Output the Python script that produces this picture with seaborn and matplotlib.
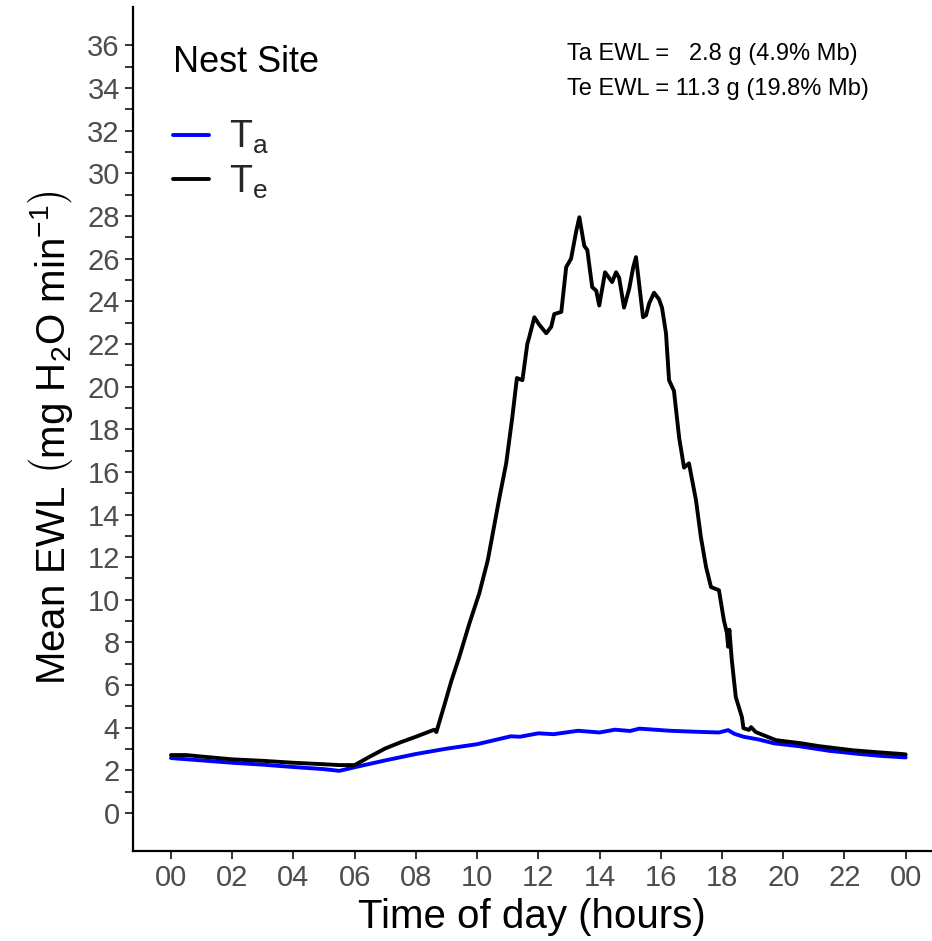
import numpy as np
import pandas as pd
import matplotlib
matplotlib.use("Agg")
import matplotlib.pyplot as plt
import seaborn as sns

# ---- data ----
ta_hours = [0.0, 1.0, 2.0, 3.0, 4.0, 5.0, 5.5, 6.0, 7.0, 8.0, 9.0, 10.0, 11.1, 11.4, 12.0,
            12.5, 13.0, 13.3, 14.0, 14.5, 15.0, 15.3, 15.8, 16.3, 17.2, 17.9, 18.2, 18.4,
            18.7, 19.2, 19.7, 20.5, 21.5, 22.5, 23.2, 24.0]
ta_ewl = [2.58, 2.47, 2.36, 2.27, 2.16, 2.06, 1.98, 2.15, 2.47, 2.77, 3.02, 3.23, 3.60, 3.58, 3.74,
          3.70, 3.80, 3.86, 3.78, 3.91, 3.85, 3.96, 3.91, 3.86, 3.81, 3.78, 3.89, 3.72,
          3.58, 3.45, 3.27, 3.14, 2.92, 2.77, 2.68, 2.61]

te_hours = [0.0, 0.5, 1.0, 2.0, 3.0, 4.0, 5.0, 5.5, 6.0, 6.5, 7.0, 7.5, 8.0, 8.6, 8.67,
            8.93, 9.16, 9.42, 9.75, 10.07, 10.35, 10.73, 10.95, 11.15, 11.3, 11.48, 11.64,
            11.7, 11.87, 12.03, 12.26, 12.42, 12.52, 12.75, 12.91, 13.07, 13.24, 13.34,
            13.5, 13.6, 13.76, 13.89, 13.99, 14.18, 14.41, 14.54, 14.64, 14.8, 14.97,
            15.1, 15.19, 15.29, 15.42, 15.52, 15.62, 15.78, 15.94, 16.04, 16.17, 16.27,
            16.43, 16.6, 16.76, 16.92, 17.15, 17.31, 17.48, 17.64, 17.9, 18.06, 18.16,
            18.2, 18.24, 18.32, 18.45, 18.65, 18.7, 18.88, 18.95, 19.1, 19.76, 20.6,
            21.16, 22.24, 23.0, 23.87, 24.0]
te_ewl = [2.72, 2.72, 2.65, 2.52, 2.45, 2.36, 2.29, 2.25, 2.25, 2.65, 3.03, 3.32, 3.58, 3.91, 3.80,
          5.06, 6.20, 7.33, 8.90, 10.30, 11.86, 14.80, 16.40, 18.56, 20.40, 20.30, 22.0,
          22.3, 23.25, 22.90, 22.50, 22.80, 23.40, 23.50, 25.60, 26.00, 27.30, 27.94,
          26.60, 26.40, 24.66, 24.50, 23.80, 25.36, 24.90, 25.36, 25.10, 23.70, 24.60,
          25.60, 26.07, 24.85, 23.25, 23.35, 23.90, 24.40, 24.10, 23.70, 22.50, 20.30,
          19.80, 17.60, 16.20, 16.40, 14.67, 12.94, 11.53, 10.60, 10.45, 9.05, 8.44,
          7.80, 8.60, 7.17, 5.44, 4.50, 3.98, 3.90, 4.03, 3.80, 3.42, 3.27,
          3.14, 2.95, 2.86, 2.77, 2.75]

series_names = ["Ta", "Te"]
legend_labels = [r"T$_\mathrm{a}$", r"T$_\mathrm{e}$"]
x_tick_values = list(range(0, 25, 2))
x_tick_labels = ["00", "02", "04", "06", "08", "10", "12", "14", "16", "18", "20", "22", "00"]
annot_lines = ["Ta EWL =   2.8 g (4.9% Mb)", "Te EWL = 11.3 g (19.8% Mb)"]

df = pd.concat([
    pd.DataFrame({"hour": ta_hours, "ewl": ta_ewl, "site": "Ta"}),
    pd.DataFrame({"hour": te_hours, "ewl": te_ewl, "site": "Te"}),
], ignore_index=True)

sns.set_theme(style="ticks")
plt.rcParams["font.family"] = ["Liberation Sans", "DejaVu Sans"]
plt.rcParams["mathtext.fontset"] = "custom"
plt.rcParams["mathtext.rm"] = "Liberation Sans"
plt.rcParams["mathtext.it"] = "Liberation Sans:italic"
plt.rcParams["mathtext.bf"] = "Liberation Sans:bold"

fig = plt.figure(figsize=(9.32, 9.41), dpi=100)
ax = fig.add_axes([0.1427, 0.0956, 0.857, 0.897])

sns.lineplot(data=df, x="hour", y="ewl", hue="site", hue_order=series_names,
             palette={"Ta": "#0000FF", "Te": "#000000"}, estimator=None,
             linewidth=2.8, ax=ax, legend=True)

ax.set_xlim(-1.24, 24.85)
ax.set_ylim(-1.78, 37.8)
ax.set_xticks(x_tick_values)
ax.set_xticklabels(x_tick_labels)
ax.set_yticks(list(range(0, 37, 1)))
ax.set_yticklabels([str(v) if v % 2 == 0 else "" for v in range(0, 37, 1)])

for s in ["top", "right"]:
    ax.spines[s].set_visible(False)
for s in ["left", "bottom"]:
    ax.spines[s].set_linewidth(1.6)
    ax.spines[s].set_color("black")
ax.tick_params(axis="both", length=5.5, width=1.4, color="#333333",
               labelsize=21, labelcolor="#4D4D4D", pad=4)

ax.set_xlabel("Time of day (hours)", fontsize=29, color="black", labelpad=4)
ax.set_ylabel(r"Mean EWL $\left(\mathrm{mg\ H_2O\ min^{-1}}\right)$", fontsize=29,
              color="black")
ax.yaxis.set_label_coords(-0.072, 0.489)

handles, _ = ax.get_legend_handles_labels()
leg = ax.legend(handles, legend_labels, title="Nest Site", loc="upper left",
                bbox_to_anchor=(0.008, 0.995), frameon=False, fontsize=27,
                title_fontsize=26, handlelength=0.95, handletextpad=0.55,
                labelspacing=0.2, alignment="left")
leg.get_title().set_color("black")
leg._legend_box.sep = 28
for lh in leg.get_lines():
    lh.set_linewidth(2.8)

for i, txt in enumerate(annot_lines):
    ax.text(12.94, 35.6 - 1.64 * i, txt, ha="left", va="center", fontsize=17, color="black")

fig.savefig("out.png", dpi=100)
